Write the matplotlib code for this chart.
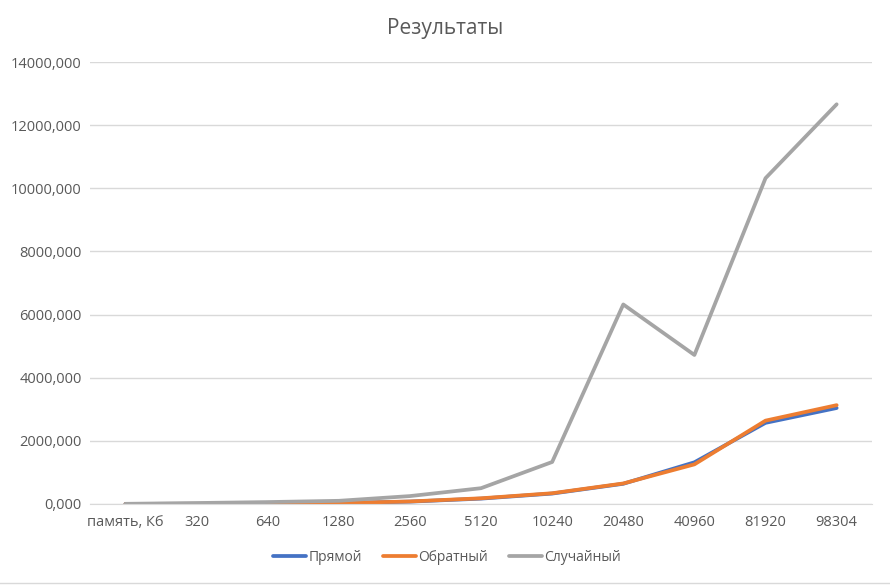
import matplotlib
matplotlib.use("Agg")
import matplotlib.pyplot as plt
from matplotlib.ticker import FuncFormatter

# categories on the x axis (first one is the axis caption used as a category)
categories = ["память, Кб", "320", "640", "1280", "2560", "5120",
              "10240", "20480", "40960", "81920", "98304"]

# values
pryamoy = [2, 5, 12, 28, 75, 170, 330, 640, 1320, 2570, 3040]
obratny = [2, 5, 12, 28, 80, 180, 340, 650, 1255, 2640, 3130]
sluchayny = [5, 30, 60, 100, 250, 500, 1330, 6320, 4720, 10320, 12660]

series = [("Прямой", pryamoy, "#4472C4"),
          ("Обратный", obratny, "#ED7D31"),
          ("Случайный", sluchayny, "#A5A5A5")]

text_color = "#595959"
grid_color = "#D9D9D9"

plt.rcParams['font.family'] = ['Open Sans', 'DejaVu Sans']

fig = plt.figure(figsize=(8.9, 5.85), dpi=100)
ax = fig.add_axes([0.101, 0.1385, 0.879, 0.7555])

x = list(range(len(categories)))
for name, vals, col in series:
    ax.plot(x, vals, color=col, linewidth=2.7, label=name,
            solid_capstyle='round', solid_joinstyle='round')

ax.set_xlim(-0.5, len(categories) - 0.5)
ax.set_ylim(0, 14000)
ax.set_yticks(range(0, 14001, 2000))
ax.yaxis.set_major_formatter(FuncFormatter(lambda v, p: f"{v:.3f}".replace('.', ',')))
ax.set_xticks(x)
ax.set_xticklabels(categories)

ax.grid(axis='y', color=grid_color, linewidth=1)
ax.set_axisbelow(True)
for side in ['top', 'right', 'left']:
    ax.spines[side].set_visible(False)
ax.spines['bottom'].set_color(grid_color)
ax.tick_params(axis='both', length=0, colors=text_color, labelsize=10.5)
ax.tick_params(axis='x', pad=8)
ax.tick_params(axis='y', pad=6)

fig.text(0.5, 0.952, "Результаты", ha='center', va='center',
         fontsize=15, color=text_color)

leg = fig.legend(loc='center', bbox_to_anchor=(0.502, 0.047), ncol=3,
                 frameon=False, fontsize=10, handlelength=2.4,
                 handletextpad=0.15, columnspacing=1.5)
for t in leg.get_texts():
    t.set_color(text_color)

# thin chart-area border at the bottom edge
fig.add_artist(plt.Line2D([0, 1], [0.003, 0.003], color=grid_color, linewidth=1))

fig.savefig("out.png", dpi=100)
